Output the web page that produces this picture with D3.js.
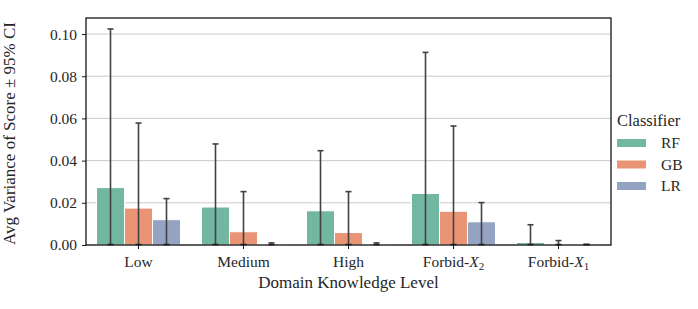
<!DOCTYPE html>
<html>
<head>
<meta charset="utf-8">
<script src="https://cdn.jsdelivr.net/npm/d3@7"></script>
<style>
  body { margin: 0; background: #fff; }
  svg text { font-family: "Liberation Serif", "DejaVu Serif", serif; fill: #262626; }
</style>
</head>
<body>
<svg id="chart" width="698" height="309"></svg>
<script>
// data
var levels = ["Low", "Medium", "High", "Forbid-X2", "Forbid-X1"];
var classifiers = ["RF", "GB", "LR"];
var colors = ["#71b7a1", "#e99575", "#95a3c3"];

var rfMean = [0.0272, 0.0180, 0.0162, 0.0244, 0.0012];
var gbMean = [0.0175, 0.0063, 0.0059, 0.0160, 0.0002];
var lrMean = [0.0120, 0.0002, 0.0002, 0.0110, 0.0001];

var rfHigh = [0.1024, 0.0479, 0.0447, 0.0913, 0.0096];
var gbHigh = [0.0578, 0.0253, 0.0253, 0.0564, 0.0021];
var lrHigh = [0.0220, 0.0010, 0.0010, 0.0201, 0.0003];

var yTicks = [0, 0.02, 0.04, 0.06, 0.08, 0.10];

var means = [rfMean, gbMean, lrMean];
var highs = [rfHigh, gbHigh, lrHigh];

var svg = d3.select("#chart");
var m = { left: 86, right: 611, top: 18, bottom: 245 };

var x = d3.scaleBand().domain(levels).range([m.left, m.right]).padding(0);
var xs = d3.scaleBand().domain(classifiers).range([0, x.bandwidth() * 0.8]).padding(0);
var y = d3.scaleLinear().domain([0, 0.1076]).range([m.bottom, m.top]);

// grid
svg.append("g").selectAll("line").data(yTicks).enter().append("line")
    .attr("x1", m.left).attr("x2", m.right)
    .attr("y1", function (d) { return y(d); }).attr("y2", function (d) { return y(d); })
    .attr("stroke", "#cccccc").attr("stroke-width", 1);

var rows = [];
levels.forEach(function (lv, i) {
    classifiers.forEach(function (c, j) {
        rows.push({ level: lv, cls: c, j: j, mean: means[j][i], high: highs[j][i] });
    });
});

var off = x.bandwidth() * 0.1;

svg.append("g").selectAll("rect").data(rows).enter().append("rect")
    .attr("x", function (d) { return x(d.level) + off + xs(d.cls); })
    .attr("width", xs.bandwidth())
    .attr("y", function (d) { return y(d.mean); })
    .attr("height", function (d) { return y(0) - y(d.mean); })
    .attr("fill", function (d) { return colors[d.j]; })
    .attr("stroke", "#fff").attr("stroke-width", 1);

// error bars (lower end clipped at 0)
var eb = svg.append("g").attr("stroke", "#424242").attr("stroke-width", 1.6);
rows.forEach(function (d) {
    var cx = x(d.level) + off + xs(d.cls) + xs.bandwidth() / 2;
    eb.append("line").attr("x1", cx).attr("x2", cx).attr("y1", y(0)).attr("y2", y(d.high));
    eb.append("line").attr("x1", cx - 3).attr("x2", cx + 3).attr("y1", y(d.high)).attr("y2", y(d.high));
    eb.append("line").attr("x1", cx - 3).attr("x2", cx + 3).attr("y1", y(0) - 0.5).attr("y2", y(0) - 0.5);
});

// axes
var yAxis = d3.axisLeft(y).tickValues(yTicks).tickFormat(d3.format(".2f")).tickSizeOuter(0).tickSize(4).tickPadding(5);
var gy = svg.append("g").attr("transform", "translate(" + m.left + ",0)").call(yAxis);
var xAxis = d3.axisBottom(x).tickSizeOuter(0).tickSize(4).tickFormat(function () { return ""; });
var gx = svg.append("g").attr("transform", "translate(0," + m.bottom + ")").call(xAxis);
[gy, gx].forEach(function (g) {
    g.select(".domain").remove();
    g.selectAll(".tick line").attr("stroke", "#000").attr("stroke-width", 0.9);
    g.selectAll("text").style("font-size", "15.5px").attr("fill", "#262626");
});

// x tick labels with subscripts
levels.forEach(function (lv) {
    var t = svg.append("text").attr("x", x(lv) + x.bandwidth() / 2).attr("y", m.bottom + 22)
        .attr("text-anchor", "middle").style("font-size", "15.5px");
    var mt = lv.match(/^(Forbid-)X(\d)$/);
    if (mt) {
        t.append("tspan").text(mt[1]);
        t.append("tspan").attr("font-style", "italic").text("X");
        t.append("tspan").attr("dy", 3).style("font-size", "11px").text(mt[2]);
    } else {
        t.text(lv);
    }
});

// frame
svg.append("rect").attr("x", m.left).attr("y", m.top)
    .attr("width", m.right - m.left).attr("height", m.bottom - m.top)
    .attr("fill", "none").attr("stroke", "#000").attr("stroke-width", 1.2);

svg.append("text").attr("x", (m.left + m.right) / 2).attr("y", 288)
    .attr("text-anchor", "middle").style("font-size", "17px").text("Domain Knowledge Level");

svg.append("text").attr("transform", "translate(15," + ((m.top + m.bottom) / 2 + 2) + ") rotate(-90)")
    .attr("text-anchor", "middle").style("font-size", "17px")
    .text("Avg Variance of Score \u00b1 95% CI");

// legend
var lg = svg.append("g").attr("transform", "translate(617,0)");
lg.append("text").attr("x", 0).attr("y", 126).style("font-size", "16.5px").text("Classifier");
classifiers.forEach(function (c, j) {
    var yy = 143 + j * 21.5;
    lg.append("rect").attr("x", 0).attr("y", yy - 4).attr("width", 29).attr("height", 8).attr("fill", colors[j]);
    lg.append("text").attr("x", 44).attr("y", yy + 5).style("font-size", "15.5px").text(c);
});
</script>
</body>
</html>
